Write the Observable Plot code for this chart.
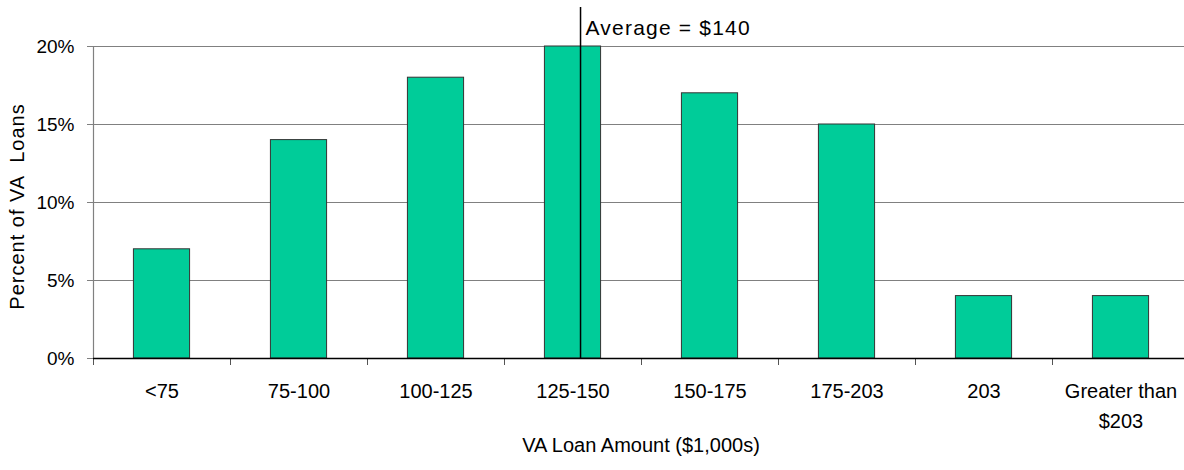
<!DOCTYPE html>
<html>
<head>
<meta charset="utf-8">
<script src="https://cdn.jsdelivr.net/npm/d3@7"></script>
<script src="https://cdn.jsdelivr.net/npm/@observablehq/plot@0.6"></script>
<style>
  html, body { margin: 0; padding: 0; background: #fff; }
  #chart svg { font-family: "Liberation Sans", Arial, sans-serif; overflow: hidden; }
</style>
</head>
<body>
<div id="chart"></div>
<script>
// ---- data ----
const categories = ["<75", "75-100", "100-125", "125-150", "150-175", "175-203", "203", "Greater than\n$203"];
const percentOfLoans = [7, 14, 18, 20, 17, 15, 4, 4];
const yTicks = [0, 5, 10, 15, 20];
const averageLabel = "Average = $140";
const averagePosition = 3.555; // position of $140 along the category axis (in category units)

const data = categories.map((c, i) => ({cat: c, idx: i, value: percentOfLoans[i]}));
const pad = 0.295;

const chart = Plot.plot({
  width: 1184,
  height: 470,
  marginLeft: 93,
  marginRight: 0,
  marginTop: 46,
  marginBottom: 112,
  style: {fontFamily: "Liberation Sans, Arial, sans-serif", background: "#fff", color: "#000"},
  x: {type: "linear", domain: [0, categories.length], range: [93, 1189]},
  y: {domain: [0, 20]},
  marks: [
    Plot.ruleY(yTicks.filter(d => d > 0), {stroke: "#808080", strokeWidth: 1.2}),
    Plot.axisY(yTicks, {tickSize: 6, tickPadding: 13, stroke: "#808080", fontSize: 19,
      tickFormat: d => d + "%", label: null}),
    Plot.ruleX([0], {y1: 0, y2: 20, stroke: "#808080", strokeWidth: 1.2}),
    Plot.axisX(d3.range(0, categories.length + 1), {tickSize: 7, stroke: "#555", tickFormat: () => "", label: null}),
    Plot.rectY(data, {x1: d => d.idx + pad, x2: d => d.idx + 1 - pad, y: "value",
      fill: "#00CC99", stroke: "#333", strokeWidth: 1}),
    Plot.ruleY([0], {stroke: "#000", strokeWidth: 1.3}),
    Plot.text(data, {x: d => d.idx + 0.5, y: 0, text: "cat", lineAnchor: "top", dy: 18,
      fontSize: 20, lineHeight: 1.5, fill: "#000"}),
    Plot.ruleX([averagePosition], {y1: 0, y2: 22.5, stroke: "#000", strokeWidth: 1.5}),
    Plot.text([averageLabel], {x: averagePosition, y: 20, text: d => d, textAnchor: "start",
      lineAnchor: "bottom", dx: 5, dy: -12, fontSize: 21, fill: "#000", className: "avglabel"}),
    Plot.text(["VA Loan Amount ($1,000s)"], {frameAnchor: "bottom", text: d => d, dx: 2, dy: 87,
      textAnchor: "middle", lineAnchor: "middle", fontSize: 20, fill: "#000"}),
    Plot.text(["Percent of VA  Loans"], {frameAnchor: "left", text: d => d, rotate: -90, dx: -76, dy: 4,
      textAnchor: "middle", lineAnchor: "middle", fontSize: 20, fill: "#000", className: "ytitle"})
  ]
});
d3.select(chart).selectAll(".avglabel text").attr("letter-spacing", "1.2px");
d3.select(chart).selectAll(".ytitle text").attr("letter-spacing", "1px").style("white-space", "pre");
document.getElementById("chart").appendChild(chart);
</script>
</body>
</html>
